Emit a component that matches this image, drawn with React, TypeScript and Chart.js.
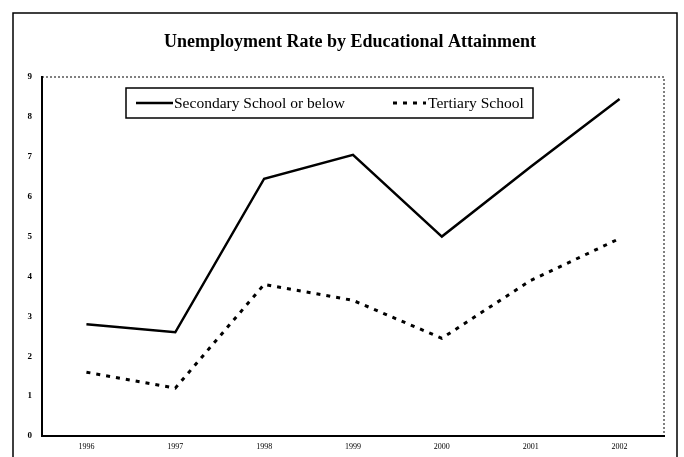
import React, { useEffect, useRef } from "react";
import { Chart, registerables } from "chart.js";

Chart.register(...registerables);

const years = ["1996", "1997", "1998", "1999", "2000", "2001", "2002"];
const secondary = [2.8, 2.6, 6.45, 7.05, 5.0, 6.75, 8.45];
const tertiary = [1.6, 1.2, 3.8, 3.4, 2.45, 3.9, 4.95];
const yTicks = [0, 1, 2, 3, 4, 5, 6, 7, 8, 9];
const titleText = "Unemployment Rate by Educational Attainment";

const framePlugin = {
  id: "framePlugin",
  afterDraw(chart: any) {
    const ctx = chart.ctx;
    const a = chart.chartArea;
    ctx.save();
    // outer frame
    ctx.strokeStyle = "#000";
    ctx.lineWidth = 1.5;
    ctx.beginPath();
    ctx.moveTo(13, 457);
    ctx.lineTo(13, 13);
    ctx.lineTo(677, 13);
    ctx.lineTo(677, 457);
    ctx.stroke();
    // plot top and right dotted borders
    ctx.lineWidth = 1;
    ctx.setLineDash([2, 2]);
    ctx.beginPath();
    ctx.moveTo(a.left, a.top);
    ctx.lineTo(a.right, a.top);
    ctx.lineTo(a.right, a.bottom);
    ctx.stroke();
    ctx.setLineDash([]);
    // title
    ctx.fillStyle = "#000";
    ctx.font = "bold 18px 'Liberation Serif', serif";
    ctx.textAlign = "center";
    ctx.textBaseline = "middle";
    ctx.fillText(titleText, 350, 42);
    // legend box
    const bx = 126, by = 88, bw = 407, bh = 30;
    ctx.fillStyle = "#fff";
    ctx.fillRect(bx, by, bw, bh);
    ctx.strokeStyle = "#000";
    ctx.lineWidth = 1.5;
    ctx.strokeRect(bx, by, bw, bh);
    const ds = chart.data.datasets;
    const cy = by + bh / 2;
    const items = [
      { x1: 136, x2: 173, tx: 174 },
      { x1: 393, x2: 426, tx: 428 },
    ];
    ds.forEach((d: any, i: number) => {
      const it = items[i];
      ctx.strokeStyle = d.borderColor;
      ctx.lineWidth = d.borderWidth;
      ctx.setLineDash(d.borderDash || []);
      ctx.beginPath();
      ctx.moveTo(it.x1, cy);
      ctx.lineTo(it.x2, cy);
      ctx.stroke();
      ctx.setLineDash([]);
      ctx.fillStyle = "#000";
      ctx.font = "15.5px 'Liberation Serif', serif";
      ctx.textAlign = "left";
      ctx.textBaseline = "middle";
      ctx.fillText(d.label, it.tx, cy + 1);
    });
    ctx.restore();
  },
};

export default function App() {
  const ref = useRef<HTMLCanvasElement>(null);
  useEffect(() => {
    document.body.style.margin = "0";
    const chart = new Chart(ref.current!, {
      type: "line",
      data: {
        labels: years,
        datasets: [
          {
            label: "Secondary School or below",
            data: secondary,
            borderColor: "#000",
            borderWidth: 2.5,
            pointRadius: 0,
            tension: 0,
            fill: false,
          },
          {
            label: "Tertiary School",
            data: tertiary,
            borderColor: "#000",
            borderWidth: 3,
            borderDash: [4, 6],
            pointRadius: 0,
            tension: 0,
            fill: false,
          },
        ],
      },
      options: {
        responsive: false,
        animation: false,
        layout: { padding: { left: 0, top: 77, right: 20, bottom: 0 } },
        plugins: {
          legend: { display: false },
          title: { display: false },
          tooltip: { enabled: false },
        },
        scales: {
          x: {
            offset: true,
            grid: { display: false, drawTicks: false },
            border: { display: true, color: "#000", width: 2 },
            ticks: {
              color: "#000",
              font: { family: "'Liberation Serif', serif", size: 8 },
              padding: 6,
              maxRotation: 0,
            },
            afterFit(s: any) {
              s.height = 21;
            },
          },
          y: {
            min: 0,
            max: 9,
            afterBuildTicks(s: any) {
              s.ticks = yTicks.map((v) => ({ value: v }));
            },
            grid: { display: false, drawTicks: false },
            border: { display: true, color: "#000", width: 2 },
            ticks: {
              color: "#000",
              font: { family: "'Liberation Serif', serif", size: 9, weight: "bold" },
              padding: 10,
            },
            afterFit(s: any) {
              s.width = 42;
            },
          },
        },
      },
      plugins: [framePlugin],
    });
    return () => chart.destroy();
  }, []);
  return <canvas ref={ref} width={684} height={457} style={{ display: "block" }} />;
}
